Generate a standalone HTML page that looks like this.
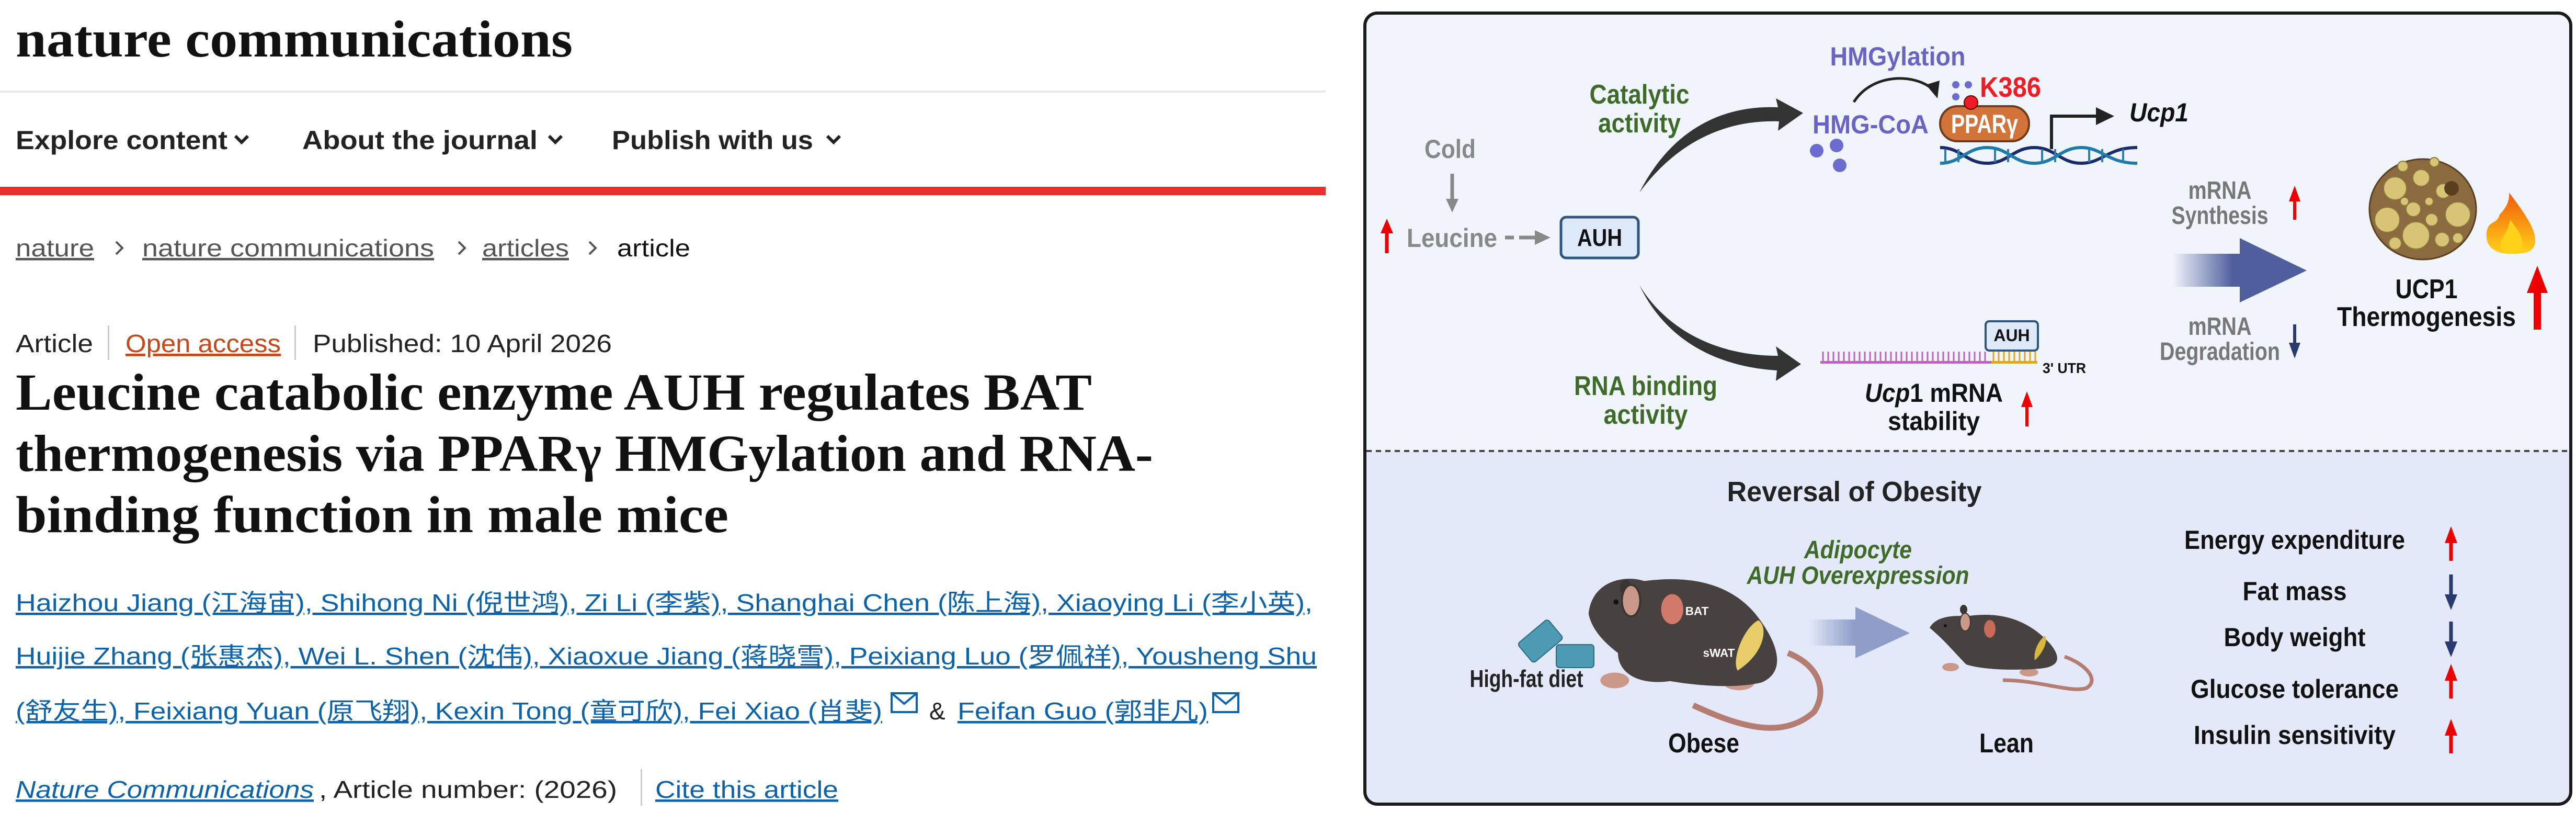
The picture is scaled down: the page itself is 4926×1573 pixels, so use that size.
<!DOCTYPE html>
<html><head><meta charset="utf-8"><style>
html,body{margin:0;padding:0;background:#fff;}
svg{display:block}
text{font-family:"Liberation Sans","Noto Sans CJK SC",sans-serif}
text.serif{font-family:"Liberation Serif","Noto Serif CJK SC",serif}
</style></head><body>
<svg width="4926" height="1573" viewBox="0 0 4926 1573" xmlns="http://www.w3.org/2000/svg">
<defs>
<linearGradient id="bg1" x1="0" x2="1"><stop offset="0" stop-color="#4f5f9e" stop-opacity="0"/><stop offset="0.45" stop-color="#4f5f9e"/><stop offset="1" stop-color="#4f5f9e"/></linearGradient>
<linearGradient id="bg2" x1="0" x2="1"><stop offset="0" stop-color="#8e9ec8" stop-opacity="0"/><stop offset="0.45" stop-color="#8e9ec8"/><stop offset="1" stop-color="#8e9ec8"/></linearGradient>
<linearGradient id="flame" x1="0" y1="1" x2="0" y2="0"><stop offset="0" stop-color="#ffd21a"/><stop offset="1" stop-color="#f05a0a"/></linearGradient>
</defs>
<rect width="4926" height="1573" fill="#fff"/>

<!-- LEFT PANEL -->
<text class="serif" x="30" y="108" font-size="100" font-weight="bold" textLength="1065" lengthAdjust="spacingAndGlyphs" fill="#111">nature communications</text>
<rect x="0" y="173" width="2535" height="4" fill="#e8e8e8"/>
<g font-size="50" font-weight="bold" fill="#222">
<text x="30" y="285" textLength="405" lengthAdjust="spacingAndGlyphs">Explore content</text>
<text x="578" y="285" textLength="450" lengthAdjust="spacingAndGlyphs">About the journal</text>
<text x="1170" y="285" textLength="385" lengthAdjust="spacingAndGlyphs">Publish with us</text>
</g>
<g stroke="#222" stroke-width="6" fill="none">
<path d="M450 260 l12 12 l12 -12"/><path d="M1050 260 l12 12 l12 -12"/><path d="M1582 260 l12 12 l12 -12"/>
</g>
<rect x="0" y="357" width="2535" height="16" fill="#e8312b"/>
<g font-size="46" fill="#555">
<text x="30" y="490" textLength="150" lengthAdjust="spacingAndGlyphs" text-decoration="underline">nature</text>
<text x="272" y="490" textLength="558" lengthAdjust="spacingAndGlyphs" text-decoration="underline">nature communications</text>
<text x="922" y="490" textLength="166" lengthAdjust="spacingAndGlyphs" text-decoration="underline">articles</text>
<text x="1180" y="490" textLength="140" lengthAdjust="spacingAndGlyphs" fill="#111">article</text>
</g>
<g stroke="#555" stroke-width="4" fill="none">
<path d="M222 462 l12 12 l-12 12"/><path d="M877 462 l12 12 l-12 12"/><path d="M1127 462 l12 12 l-12 12"/>
</g>
<g font-size="48">
<text x="30" y="673" textLength="148" lengthAdjust="spacingAndGlyphs" fill="#222">Article</text>
<rect x="206" y="622" width="3" height="66" fill="#ccc"/>
<text x="240" y="673" textLength="297" lengthAdjust="spacingAndGlyphs" fill="#c4481a" text-decoration="underline">Open access</text>
<rect x="563" y="622" width="3" height="66" fill="#ccc"/>
<text x="598" y="673" textLength="572" lengthAdjust="spacingAndGlyphs" fill="#222">Published: 10 April 2026</text>
</g>
<g font-size="100" font-weight="bold" fill="#111">
<text class="serif" x="30" y="783" textLength="2058" lengthAdjust="spacingAndGlyphs">Leucine catabolic enzyme AUH regulates BAT</text>
<text class="serif" x="30" y="900" textLength="2175" lengthAdjust="spacingAndGlyphs">thermogenesis via PPARγ HMGylation and RNA-</text>
<text class="serif" x="30" y="1017" textLength="1363" lengthAdjust="spacingAndGlyphs">binding function in male mice</text>
</g>
<g font-size="46" fill="#0d62a8" text-decoration="underline">
<text x="30" y="1168" textLength="2480" lengthAdjust="spacingAndGlyphs">Haizhou Jiang  (江海宙), Shihong Ni  (倪世鸿), Zi Li  (李紫), Shanghai Chen  (陈上海), Xiaoying Li  (李小英),</text>
<text x="30" y="1270" textLength="2488" lengthAdjust="spacingAndGlyphs">Huijie Zhang  (张惠杰), Wei L. Shen  (沈伟), Xiaoxue Jiang  (蒋晓雪), Peixiang Luo  (罗佩祥), Yousheng Shu</text>
<text x="30" y="1375" textLength="1657" lengthAdjust="spacingAndGlyphs">(舒友生), Feixiang Yuan  (原飞翔), Kexin Tong  (童可欣), Fei Xiao  (肖斐)</text>
<text x="1831" y="1375" textLength="479" lengthAdjust="spacingAndGlyphs">Feifan Guo  (郭非凡)</text>
</g>
<text x="1777" y="1375" font-size="46" fill="#222">&amp;</text>
<g stroke="#0d62a8" stroke-width="4" fill="none">
<rect x="1705" y="1325" width="48" height="36"/><path d="M1705 1325 l24 20 l24 -20"/>
<rect x="2320" y="1325" width="48" height="36"/><path d="M2320 1325 l24 20 l24 -20"/>
</g>
<g font-size="46">
<text x="30" y="1525" textLength="570" lengthAdjust="spacingAndGlyphs" fill="#0d62a8" font-style="italic" text-decoration="underline">Nature Communications</text>
<text x="610" y="1525" textLength="570" lengthAdjust="spacingAndGlyphs" fill="#222">, Article number:  (2026)</text>
<rect x="1225" y="1470" width="3" height="70" fill="#ccc"/>
<text x="1253" y="1525" textLength="350" lengthAdjust="spacingAndGlyphs" fill="#0d62a8" text-decoration="underline">Cite this article</text>
</g>

<!-- RIGHT PANEL -->
<rect x="2610" y="25" width="2306" height="1512" rx="24" fill="#f0f4fb"/>
<path d="M2613 862 H4913 V1512 a22 22 0 0 1 -22 22 H2635 a22 22 0 0 1 -22 -22 Z" fill="#e3e9f8"/>
<line x1="2613" y1="862" x2="4913" y2="862" stroke="#444" stroke-width="4" stroke-dasharray="10 8"/>
<rect x="2610" y="25" width="2306" height="1512" rx="24" fill="none" stroke="#1a1a1a" stroke-width="6"/>

<g font-weight="bold">
<text x="2773" y="302" font-size="50" fill="#888" text-anchor="middle" textLength="98" lengthAdjust="spacingAndGlyphs">Cold</text>
<text x="2690" y="472" font-size="50" fill="#888" textLength="173" lengthAdjust="spacingAndGlyphs">Leucine</text>
</g>
<path d="M2777 332 V390" stroke="#888" stroke-width="7"/><path d="M2765 380 l12 26 l12 -26z" fill="#888"/>
<path d="M2652 484 V440" stroke="#e00" stroke-width="7"/><path d="M2640 446 l12 -28 l12 28z" fill="#e00"/>
<path d="M2878 454 H2895 M2905 454 H2940" stroke="#888" stroke-width="7"/><path d="M2935 440 l30 14 l-30 14z" fill="#888"/>
<rect x="2985" y="415" width="148" height="78" rx="10" fill="#dde9f8" stroke="#2e5580" stroke-width="5"/>
<text x="3059" y="470" font-size="46" font-weight="bold" text-anchor="middle" fill="#111" textLength="86" lengthAdjust="spacingAndGlyphs">AUH</text>

<path d="M3135 368 C3190 260 3280 200 3400 205 L3396 188 L3448 216 L3400 250 L3402 232 C3290 228 3200 280 3135 368Z" fill="#333"/>
<path d="M3135 545 C3180 620 3270 680 3400 680 L3396 662 L3444 696 L3396 728 L3398 708 C3270 700 3180 640 3135 545Z" fill="#333"/>
<g font-size="52" font-weight="bold" fill="#3f6b2a" text-anchor="middle">
<text x="3135" y="198" textLength="191" lengthAdjust="spacingAndGlyphs">Catalytic</text>
<text x="3135" y="253" textLength="158" lengthAdjust="spacingAndGlyphs">activity</text>
<text x="3147" y="755" textLength="274" lengthAdjust="spacingAndGlyphs">RNA binding</text>
<text x="3147" y="810" textLength="161" lengthAdjust="spacingAndGlyphs">activity</text>
</g>

<text x="3629" y="125" font-size="50" font-weight="bold" fill="#6a63c4" text-anchor="middle" textLength="259" lengthAdjust="spacingAndGlyphs">HMGylation</text>
<path d="M3545 195 C3580 140 3660 140 3695 170" stroke="#222" stroke-width="5" fill="none"/>
<path d="M3683 162 l22 26 l4 -34z" fill="#222"/>
<text x="3466" y="255" font-size="50" font-weight="bold" fill="#6a63c4" textLength="222" lengthAdjust="spacingAndGlyphs">HMG-CoA</text>
<g fill="#6b6bd0">
<circle cx="3740" cy="162" r="7"/><circle cx="3764" cy="162" r="7"/><circle cx="3740" cy="185" r="7"/>
<circle cx="3474" cy="288" r="13"/><circle cx="3512" cy="278" r="13"/><circle cx="3518" cy="316" r="13"/>
</g>
<text x="3786" y="185" font-size="54" font-weight="bold" fill="#ee1c25" textLength="117" lengthAdjust="spacingAndGlyphs">K386</text>
<rect x="3710" y="203" width="170" height="67" rx="33" fill="#d2733a" stroke="#6e3b1c" stroke-width="4"/>
<circle cx="3769" cy="196" r="13" fill="#ee1c25" stroke="#600" stroke-width="2"/>
<text x="3795" y="254" font-size="50" font-weight="bold" fill="#fff" text-anchor="middle" textLength="128" lengthAdjust="spacingAndGlyphs">PPARγ</text>
<g fill="none" stroke-width="6">
<path d="M3710 282 C3750 282 3760 312 3800 312 C3840 312 3850 282 3890 282 C3930 282 3940 312 3980 312 C4020 312 4030 282 4087 282" stroke="#1a2b6b"/>
<path d="M3710 312 C3750 312 3760 282 3800 282 C3840 282 3850 312 3890 312 C3930 312 3940 282 3980 282 C4020 282 4030 312 4087 312" stroke="#1e7aa8"/>
</g>
<g stroke="#2a7fb0" stroke-width="4">
<path d="M3720 285V310M3745 285V310M3815 285V310M3840 285V310M3905 285V310M3930 285V310M3995 285V310M4020 285V310M4060 285V310"/>
</g>
<path d="M3923 285 V222 H4015" stroke="#222" stroke-width="6" fill="none"/>
<path d="M4008 205 l35 17 l-35 17z" fill="#222"/>
<text x="4072" y="232" font-size="50" font-weight="bold" font-style="italic" fill="#111" textLength="113" lengthAdjust="spacingAndGlyphs">Ucp1</text>

<g stroke="#c063b8" stroke-width="3">
<path d="M3486 672V690M3496 672V690M3506 672V690M3516 672V690M3526 672V690M3536 672V690M3546 672V690M3556 672V690M3566 672V690M3576 672V690M3586 672V690M3596 672V690M3606 672V690M3616 672V690M3626 672V690M3636 672V690M3646 672V690M3656 672V690M3666 672V690M3676 672V690M3686 672V690M3696 672V690M3706 672V690M3716 672V690M3726 672V690M3736 672V690M3746 672V690M3756 672V690M3766 672V690M3776 672V690M3786 672V690M3796 672V690"/>
</g>
<g stroke="#e0a818" stroke-width="3"><path d="M3812 672V690M3822 672V690M3832 672V690M3842 672V690M3852 672V690M3862 672V690M3872 672V690M3882 672V690M3892 672V690"/></g>
<rect x="3481" y="690" width="330" height="5" fill="#c063b8"/><rect x="3808" y="690" width="88" height="5" fill="#e0a818"/>
<rect x="3797" y="614" width="100" height="56" rx="7" fill="#dde9f8" stroke="#2e5580" stroke-width="4"/>
<text x="3847" y="652" font-size="32" font-weight="bold" text-anchor="middle" fill="#111">AUH</text>
<text x="3906" y="713" font-size="28" font-weight="bold" fill="#111" textLength="83" lengthAdjust="spacingAndGlyphs">3' UTR</text>
<g font-size="50" font-weight="bold" fill="#111" text-anchor="middle">
<text x="3698" y="768" textLength="264" lengthAdjust="spacingAndGlyphs"><tspan font-style="italic">Ucp</tspan>1 mRNA</text>
<text x="3698" y="822" textLength="176" lengthAdjust="spacingAndGlyphs">stability</text>
</g>
<path d="M3876 815 V770" stroke="#e00" stroke-width="6"/><path d="M3865 778 l11 -30 l11 30z" fill="#e00"/>

<g font-size="48" font-weight="bold" fill="#777" text-anchor="middle">
<text x="4245" y="380" textLength="121" lengthAdjust="spacingAndGlyphs">mRNA</text>
<text x="4245" y="428" textLength="185" lengthAdjust="spacingAndGlyphs">Synthesis</text>
<text x="4245" y="640" textLength="121" lengthAdjust="spacingAndGlyphs">mRNA</text>
<text x="4245" y="688" textLength="230" lengthAdjust="spacingAndGlyphs">Degradation</text>
</g>
<path d="M4388 420 V378" stroke="#e00" stroke-width="6"/><path d="M4377 385 l11 -30 l11 30z" fill="#e00"/>
<path d="M4388 620 V662" stroke="#2a3a70" stroke-width="6"/><path d="M4377 655 l11 30 l11 -30z" fill="#2a3a70"/>
<path d="M4155 485 H4283 V455 L4411 517 L4283 578 V548 H4155Z" fill="url(#bg1)"/>

<ellipse cx="4633" cy="400" rx="102" ry="96" fill="#8a6a3e" stroke="#5a4020" stroke-width="3"/>
<g fill="#d8c477" stroke="#8a7a3a" stroke-width="2">
<circle cx="4580" cy="360" r="22"/><circle cx="4630" cy="340" r="16"/><circle cx="4672" cy="365" r="14"/><circle cx="4700" cy="410" r="24"/>
<circle cx="4565" cy="420" r="24"/><circle cx="4615" cy="400" r="14"/><circle cx="4650" cy="420" r="12"/><circle cx="4620" cy="450" r="26"/>
<circle cx="4670" cy="458" r="14"/><circle cx="4595" cy="318" r="10"/><circle cx="4655" cy="310" r="9"/><circle cx="4580" cy="465" r="12"/>
<circle cx="4700" cy="455" r="10"/><circle cx="4645" cy="385" r="8"/><circle cx="4598" cy="385" r="8"/>
</g>
<circle cx="4688" cy="360" r="14" fill="#5a3e20"/>
<path d="M4798 368 C4830 410 4850 440 4848 462 C4846 485 4825 485 4798 485 C4770 485 4752 470 4755 445 C4758 420 4775 430 4780 410 C4790 400 4800 385 4798 368Z" fill="url(#flame)"/>
<path d="M4800 420 C4820 445 4830 465 4820 478 C4810 485 4790 485 4782 472 C4778 455 4795 450 4800 420Z" fill="#ffd21a"/>
<g font-size="52" font-weight="bold" fill="#111" text-anchor="middle">
<text x="4640" y="570" textLength="119" lengthAdjust="spacingAndGlyphs">UCP1</text>
<text x="4640" y="623" textLength="342" lengthAdjust="spacingAndGlyphs">Thermogenesis</text>
</g>
<path d="M4852 630 V555" stroke="#e00" stroke-width="14"/><path d="M4832 560 l20 -52 l20 52z" fill="#e00"/>

<text x="3546" y="958" font-size="54" font-weight="bold" fill="#222" text-anchor="middle" textLength="487" lengthAdjust="spacingAndGlyphs">Reversal of Obesity</text>
<g font-size="48" font-weight="bold" font-style="italic" fill="#3f6b2a" text-anchor="middle">
<text x="3553" y="1067" textLength="206" lengthAdjust="spacingAndGlyphs">Adipocyte</text>
<text x="3553" y="1116" textLength="425" lengthAdjust="spacingAndGlyphs">AUH Overexpression</text>
</g>
<path d="M3458 1184 H3548 V1160 L3652 1210 L3548 1258 V1234 H3458Z" fill="url(#bg2)"/>
<g fill="#4d9ab5" stroke="#2d6a80" stroke-width="2">
<rect x="2922" y="1188" width="48" height="75" rx="6" transform="rotate(50 2946 1225)"/>
<rect x="2976" y="1232" width="72" height="44" rx="6"/>
</g>
<text x="2919" y="1313" font-size="46" font-weight="bold" fill="#222" text-anchor="middle" textLength="217" lengthAdjust="spacingAndGlyphs">High-fat diet</text>

<g transform="translate(-806 -302) scale(1.25)">
<path d="M3235 1320 C3300 1350 3370 1375 3420 1330 C3440 1300 3430 1260 3380 1240" stroke="#b57c72" stroke-width="9" fill="none"/>
<ellipse cx="3115" cy="1282" rx="22" ry="12" fill="#c99888"/>
<ellipse cx="3305" cy="1285" rx="24" ry="12" fill="#c99888"/>
<path d="M3075 1180 C3080 1130 3130 1120 3160 1130 C3200 1125 3280 1120 3330 1180 C3370 1230 3375 1270 3340 1285 C3300 1295 3240 1290 3200 1283 C3150 1290 3120 1270 3120 1240 C3100 1225 3080 1205 3075 1180Z" fill="#474240"/>
<ellipse cx="3132" cy="1140" rx="9" ry="12" fill="#3a3532"/>
<ellipse cx="3140" cy="1160" rx="14" ry="24" fill="#c99888" stroke="#3a3532" stroke-width="3"/>
<circle cx="3117" cy="1162" r="4" fill="#111"/>
<ellipse cx="3203" cy="1173" rx="17" ry="23" fill="#d27a6a"/>
<text x="3223" y="1182" font-size="18" font-weight="bold" fill="#fff">BAT</text>
<path d="M3335 1190 C3350 1200 3345 1240 3303 1267 C3293 1250 3313 1200 3335 1190Z" fill="#e8cc6a"/>
<text x="3250" y="1246" font-size="18" font-weight="bold" fill="#fff">sWAT</text>
</g>
<text x="3258" y="1438" font-size="52" font-weight="bold" fill="#111" text-anchor="middle" textLength="136" lengthAdjust="spacingAndGlyphs">Obese</text>

<g>
<path d="M3948 1255 C3990 1270 4015 1300 3990 1315 C3960 1325 3900 1300 3830 1300" stroke="#b57c72" stroke-width="7" fill="none"/>
<ellipse cx="3730" cy="1275" rx="16" ry="8" fill="#c99888"/>
<ellipse cx="3880" cy="1285" rx="18" ry="8" fill="#c99888"/>
<path d="M3690 1200 C3700 1180 3730 1175 3760 1178 C3810 1170 3870 1175 3920 1230 C3945 1260 3935 1275 3900 1278 C3850 1282 3790 1280 3760 1270 C3740 1250 3720 1225 3690 1200Z" fill="#474240"/>
<ellipse cx="3755" cy="1165" rx="7" ry="9" fill="#3a3532"/>
<ellipse cx="3758" cy="1189" rx="10" ry="17" fill="#c99888" stroke="#3a3532" stroke-width="2"/>
<circle cx="3720" cy="1196" r="3" fill="#111"/>
<ellipse cx="3805" cy="1202" rx="11" ry="17" fill="#c86a58"/>
<path d="M3910 1215 C3918 1225 3905 1250 3891 1262 C3888 1245 3898 1225 3910 1215Z" fill="#d8b83a"/>
</g>
<text x="3837" y="1438" font-size="52" font-weight="bold" fill="#111" text-anchor="middle" textLength="104" lengthAdjust="spacingAndGlyphs">Lean</text>

<g font-size="50" font-weight="bold" fill="#111" text-anchor="middle">
<text x="4388" y="1049" textLength="422" lengthAdjust="spacingAndGlyphs">Energy expenditure</text>
<text x="4388" y="1147" textLength="199" lengthAdjust="spacingAndGlyphs">Fat mass</text>
<text x="4388" y="1235" textLength="271" lengthAdjust="spacingAndGlyphs">Body weight</text>
<text x="4388" y="1334" textLength="398" lengthAdjust="spacingAndGlyphs">Glucose tolerance</text>
<text x="4388" y="1422" textLength="386" lengthAdjust="spacingAndGlyphs">Insulin sensitivity</text>
</g>
<g stroke-width="7">
<path d="M4687 1072 V1030" stroke="#e00"/><path d="M4687 1335 V1293" stroke="#e00"/><path d="M4687 1440 V1398" stroke="#e00"/>
<path d="M4687 1098 V1145" stroke="#2a3a70"/><path d="M4687 1188 V1235" stroke="#2a3a70"/>
</g>
<path d="M4675 1038 l12 -32 l12 32z M4675 1301 l12 -32 l12 32z M4675 1406 l12 -32 l12 32z" fill="#e00"/>
<path d="M4675 1136 l12 30 l12 -30z M4675 1226 l12 30 l12 -30z" fill="#2a3a70"/>
</svg>
</body></html>
